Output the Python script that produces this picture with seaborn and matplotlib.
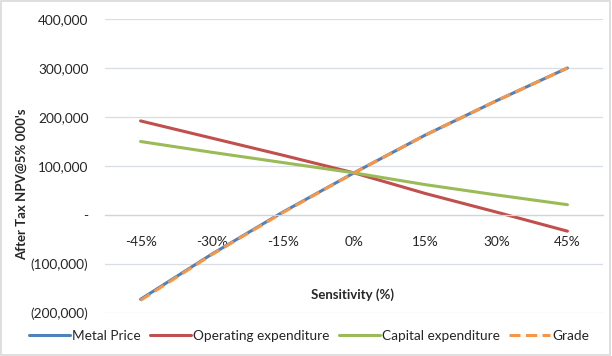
import pandas as pd
import matplotlib
matplotlib.use("Agg")
import matplotlib.pyplot as plt
import seaborn as sns
from matplotlib.patches import Rectangle
from matplotlib.ticker import FuncFormatter, FixedLocator

# Sensitivity cases (%) and after-tax NPV (000's) for each driver
sensitivity = [-45, -30, -15, 0, 15, 30, 45]
metal_price = [-172000, -80000, 6000, 86000, 163000, 233000, 300000]
operating_exp = [192000, 157000, 122000, 86000, 44000, 6000, -33000]
capital_exp = [150000, 128000, 107000, 86000, 62000, 41000, 21000]
grade = [-174000, -81000, 5000, 86000, 163000, 233000, 300000]

series_names = ["Metal Price", "Operating expenditure", "Capital expenditure", "Grade"]
series_vals = [metal_price, operating_exp, capital_exp, grade]
colors = {"Metal Price": "#4F81BD", "Operating expenditure": "#C0504D",
          "Capital expenditure": "#9BBB59", "Grade": "#F79646"}
dashes = {"Metal Price": "", "Operating expenditure": "",
          "Capital expenditure": "", "Grade": (3.6, 1.8)}

rows = []
for name, vals in zip(series_names, series_vals):
    for s, v in zip(sensitivity, vals):
        rows.append({"sens": s, "npv": v, "series": name})
df = pd.DataFrame(rows)

sns.set_style("white")
plt.rcParams["font.family"] = ["Lato", "DejaVu Sans"]
text_col = "#262626"

fig = plt.figure(figsize=(6.12, 3.56), dpi=100)
ax = fig.add_axes([105 / 612, 1 - 313 / 356, 498 / 612, 294 / 356])

sns.lineplot(data=df, x="sens", y="npv", hue="series", style="series",
             hue_order=series_names, style_order=series_names,
             palette=colors, dashes=dashes, linewidth=2.2, ax=ax)

# axes look (Excel-like)
ax.set_xlim(-52.5, 52.5)
ax.set_ylim(-200000, 400000)
ax.set_yticks(range(-200000, 400001, 100000))
ax.grid(axis="y", color="#D9DEE6", linewidth=0.9)
ax.set_axisbelow(True)
for sp in ["top", "right", "left"]:
    ax.spines[sp].set_visible(False)
ax.spines["bottom"].set_position(("data", 0))
ax.spines["bottom"].set_color("#D0D5DD")
ax.spines["bottom"].set_linewidth(0.9)


def acct(v, pos):
    if v == 0:
        return "-"
    if v < 0:
        return f"({abs(v):,.0f})"
    return f"{v:,.0f}"


ax.yaxis.set_major_formatter(FuncFormatter(acct))
ax.tick_params(axis="y", length=0, pad=12, labelsize=9.8, labelcolor=text_col)

ax.set_xticks(sensitivity)
ax.set_xticklabels([f"{s}%" for s in sensitivity])
ax.xaxis.set_minor_locator(FixedLocator([-52.5 + 15 * i for i in range(8)]))
ax.tick_params(axis="x", which="major", length=0, pad=15, labelsize=9.8, labelcolor=text_col)
ax.tick_params(axis="x", which="minor", length=5, width=0.9, color="#D0D5DD", direction="out")
ax.set_xlabel("")
ax.set_ylabel("")

# axis titles
fig.text(22 / 612, 1 - 184 / 356, "After Tax NPV@5% 000's", rotation=90,
         ha="center", va="center", fontsize=9.5, fontweight="bold", color=text_col)
fig.text(353 / 612, 1 - 295 / 356, "Sensitivity (%)", ha="center", va="center",
         fontsize=9.5, fontweight="bold", color=text_col)

# legend at bottom
handles, labels = ax.get_legend_handles_labels()
ax.get_legend().remove()
fig.legend(handles, labels, loc="center", bbox_to_anchor=(309 / 612, 1 - 336 / 356),
           ncol=4, frameon=False, fontsize=9.8, handlelength=3.0,
           handletextpad=0.15, columnspacing=0.7, labelcolor=text_col)

# chart border
fig.patches.append(Rectangle((0.002, 0.003), 0.995, 0.993, transform=fig.transFigure,
                             fill=False, edgecolor="#D9D9D9", linewidth=1.2))

fig.savefig("out.png", dpi=100)
